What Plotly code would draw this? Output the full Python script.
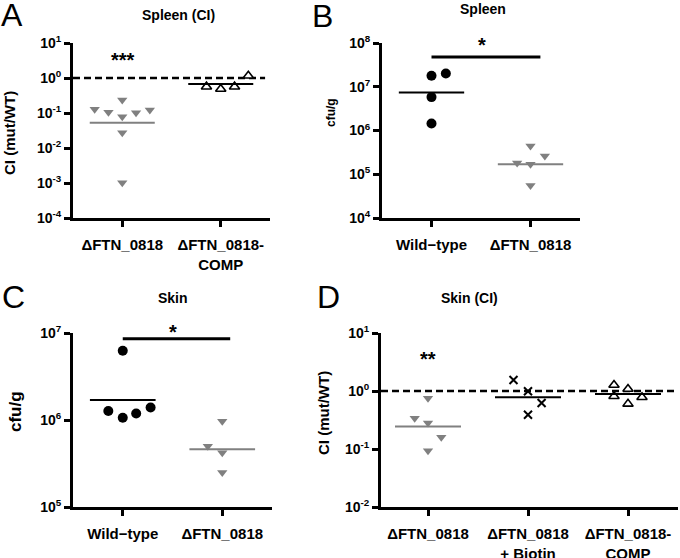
import plotly.graph_objects as go

W, H = 680, 558
FONT = "Liberation Sans, Arial, sans-serif"
GRAY = "#808080"

# ---------------- data ----------------
# Panel A: Spleen (CI)
a_categories = ["ΔFTN_0818", "ΔFTN_0818-<br>COMP"]
a_mut_values = [0.127, 0.105, 0.235, 0.0785, 0.0274, 0.00102, 0.102, 0.122]
a_mut_offsets = [-0.28, -0.14, 0, 0, 0, 0, 0.14, 0.28]
a_comp_values = [0.565, 0.485, 0.565, 1.16]
a_comp_offsets = [-0.145, 0, 0.14, 0.28]
a_centers = [0.053, 0.67]

# Panel B: Spleen
b_categories = ["Wild−type", "ΔFTN_0818"]
b_wt_values = [1.78e7, 2.0e7, 5.8e6, 1.45e6]
b_wt_offsets = [0, 0.145, 0, 0]
b_mut_values = [4.4e5, 2.6e5, 1.8e5, 1.7e5, 5.5e4]
b_mut_offsets = [0, 0.145, -0.135, 0, 0]
b_centers = [7.4e6, 1.7e5]
b_sig_level = 4.8e7

# Panel C: Skin
c_categories = ["Wild−type", "ΔFTN_0818"]
c_wt_values = [6.25e6, 1.27e6, 1.06e6, 1.19e6, 1.39e6]
c_wt_offsets = [0, -0.145, 0, 0.135, 0.28]
c_mut_values = [9.7e5, 5.0e5, 4.2e5, 2.5e5]
c_mut_offsets = [0, -0.145, 0, 0]
c_centers = [1.7e6, 4.6e5]
c_sig_level = 8.6e6

# Panel D: Skin (CI)
d_categories = ["ΔFTN_0818", "ΔFTN_0818<br>+ Biotin", "ΔFTN_0818-<br>COMP"]
d_mut_values = [0.75, 0.34, 0.28, 0.16, 0.093]
d_mut_offsets = [0, -0.133, 0, 0.133, 0]
d_biotin_values = [1.55, 0.99, 0.62, 0.39]
d_biotin_offsets = [-0.145, 0, 0.136, 0]
d_comp_values = [1.27, 1.08, 0.81, 0.78, 0.60]
d_comp_offsets = [-0.14, 0, -0.14, 0.14, 0]
d_centers = [0.245, 0.78, 0.89]


def px(x, y):
    return x / W, 1 - y / H


def sup_ticks(lo, hi):
    vals = [10.0 ** k for k in range(lo, hi + 1)]
    text = ["<b>10<sup>%d</sup></b>" % k for k in range(lo, hi + 1)]
    return vals, text


fig = go.Figure()

HALF = 0.33


def points(xa, ya, cat, offs, vals, symbol, color, size, line=None):
    fig.add_trace(go.Scatter(
        x=[cat + o for o in offs], y=vals, mode="markers",
        xaxis=xa, yaxis=ya, showlegend=False, cliponaxis=False, hoverinfo="skip",
        marker=dict(symbol=symbol, color=color, size=size,
                    line=line or dict(width=0))))


def center_line(xa, ya, cat, val, color):
    fig.add_trace(go.Scatter(
        x=[cat - HALF, cat + HALF], y=[val, val], mode="lines",
        xaxis=xa, yaxis=ya, showlegend=False, hoverinfo="skip",
        line=dict(color=color, width=2)))


def hline(xa, ya, x0, x1, val, dash=None, width=2.5):
    fig.add_trace(go.Scatter(
        x=[x0, x1], y=[val, val], mode="lines", xaxis=xa, yaxis=ya,
        showlegend=False, cliponaxis=False, hoverinfo="skip",
        line=dict(color="black", width=width, dash=dash)))


# Panel A
hline("x", "y", -0.5, 1.45, 1, dash="7px,4px", width=2.5)
points("x", "y", 0, a_mut_offsets, a_mut_values, "triangle-down", GRAY, 9)
points("x", "y", 1, a_comp_offsets, a_comp_values, "triangle-up", "white", 9,
       dict(color="black", width=1.6))
center_line("x", "y", 0, a_centers[0], GRAY)
center_line("x", "y", 1, a_centers[1], "black")

# Panel B
points("x2", "y2", 0, b_wt_offsets, b_wt_values, "circle", "black", 10)
points("x2", "y2", 1, b_mut_offsets, b_mut_values, "triangle-down", GRAY, 9)
center_line("x2", "y2", 0, b_centers[0], "black")
center_line("x2", "y2", 1, b_centers[1], GRAY)
hline("x2", "y2", 0, 1.1, b_sig_level, width=3)

# Panel C
points("x3", "y3", 0, c_wt_offsets, c_wt_values, "circle", "black", 10)
points("x3", "y3", 1, c_mut_offsets, c_mut_values, "triangle-down", GRAY, 9)
center_line("x3", "y3", 0, c_centers[0], "black")
center_line("x3", "y3", 1, c_centers[1], GRAY)
hline("x3", "y3", 0, 1.08, c_sig_level, width=3)

# Panel D
hline("x4", "y4", -0.47, 2.5, 1, dash="7px,4px", width=2.5)
points("x4", "y4", 0, d_mut_offsets, d_mut_values, "triangle-down", GRAY, 9)
points("x4", "y4", 1, d_biotin_offsets, d_biotin_values, "x-thin-open", "black", 8,
       dict(color="black", width=2))
points("x4", "y4", 2, d_comp_offsets, d_comp_values, "triangle-up", "white", 9,
       dict(color="black", width=1.6))
center_line("x4", "y4", 0, d_centers[0], GRAY)
center_line("x4", "y4", 1, d_centers[1], "black")
center_line("x4", "y4", 2, d_centers[2], "black")

# ---------------- axes ----------------
common_x = dict(showgrid=False, zeroline=False, showline=True, linecolor="black",
                linewidth=3, ticks="outside", ticklen=6, tickwidth=3, automargin=False,
                tickcolor="black", tickfont=dict(family=FONT, size=15, color="black"),
                ticklabelstandoff=5)
common_y = dict(type="log", showgrid=False, zeroline=False, showline=True,
                linecolor="black", linewidth=3, ticks="outside", ticklen=6,
                tickwidth=3, tickcolor="black", automargin=False,
                tickfont=dict(family=FONT, size=14, color="black"))


def xdom(x0, x1):
    return [x0 / W, x1 / W]


def ydom(top, bottom):
    return [1 - bottom / H, 1 - top / H]


def xcats(cats):
    return dict(tickmode="array", tickvals=list(range(len(cats))),
                ticktext=["<b>%s</b>" % c for c in cats])


av, at = sup_ticks(-4, 1)
bv, bt = sup_ticks(4, 8)
cv, ct = sup_ticks(5, 7)
dv, dt = sup_ticks(-2, 1)

fig.update_layout(
    template="none",
    width=W, height=H, margin=dict(l=0, r=0, t=0, b=0, pad=0), autosize=False,
    paper_bgcolor="white", plot_bgcolor="white", showlegend=False,
    font=dict(family=FONT, color="black"),
    xaxis=dict(common_x, domain=xdom(73, 270), range=[-0.5, 1.5], anchor="y",
               **xcats(a_categories)),
    yaxis=dict(common_y, domain=ydom(43, 218), range=[-4, 1], anchor="x",
               tickvals=av, ticktext=at),
    xaxis2=dict(common_x, domain=xdom(382, 580), range=[-0.5, 1.5], anchor="y2",
                **xcats(b_categories)),
    yaxis2=dict(common_y, domain=ydom(43, 218), range=[4, 8], anchor="x2",
                tickvals=bv, ticktext=bt),
    xaxis3=dict(common_x, domain=xdom(73, 272), range=[-0.5, 1.5], anchor="y3",
                **xcats(c_categories)),
    yaxis3=dict(common_y, domain=ydom(333, 507), range=[5, 7], anchor="x3",
                tickvals=cv, ticktext=ct),
    xaxis4=dict(common_x, domain=xdom(381, 678), range=[-0.47, 2.5], anchor="y4",
                **xcats(d_categories)),
    yaxis4=dict(common_y, domain=ydom(333, 507), range=[-2, 1], anchor="x4",
                tickvals=dv, ticktext=dt),
)

ann = []


def text_at(x, y, s, size, bold=True, angle=0, yshift=0):
    xp, yp = px(x, y)
    ann.append(dict(x=xp, y=yp, xref="paper", yref="paper", text=("<b>%s</b>" % s) if bold else s,
                    showarrow=False, xanchor="center", yanchor="middle", textangle=angle,
                    yshift=yshift,
                    font=dict(family=FONT, size=size, color="black")))


# panel letters
text_at(12, 15, "A", 32, bold=False)
text_at(322, 16, "B", 32, bold=False)
text_at(13, 297, "C", 32, bold=False)
text_at(328, 297, "D", 32, bold=False)
# titles
text_at(178, 15, "Spleen (CI)", 14)
text_at(483, 9, "Spleen", 14)
text_at(173, 298, "Skin", 14)
text_at(469, 298, "Skin (CI)", 14)
# y-axis titles
text_at(10, 133, "CI (mut/WT)", 15, angle=-90)
text_at(331, 113, "cfu/g", 12, angle=-90)
text_at(15, 412, "cfu/g", 17, angle=-90)
text_at(323, 413, "CI (mut/WT)", 15, angle=-90)
# significance stars
text_at(123, 57, "***", 20, yshift=-3)
text_at(482, 42, "*", 20, yshift=-3)
text_at(173, 329, "*", 20, yshift=-3)
text_at(428, 356, "**", 20, yshift=-3)

fig.update_layout(annotations=ann)
fig.write_html(
    "out.html",
    config={"displayModeBar": False, "staticPlot": True},
    post_script="document.body.style.margin='0';document.body.style.padding='0';"
                "document.documentElement.style.overflow='hidden';",
)
